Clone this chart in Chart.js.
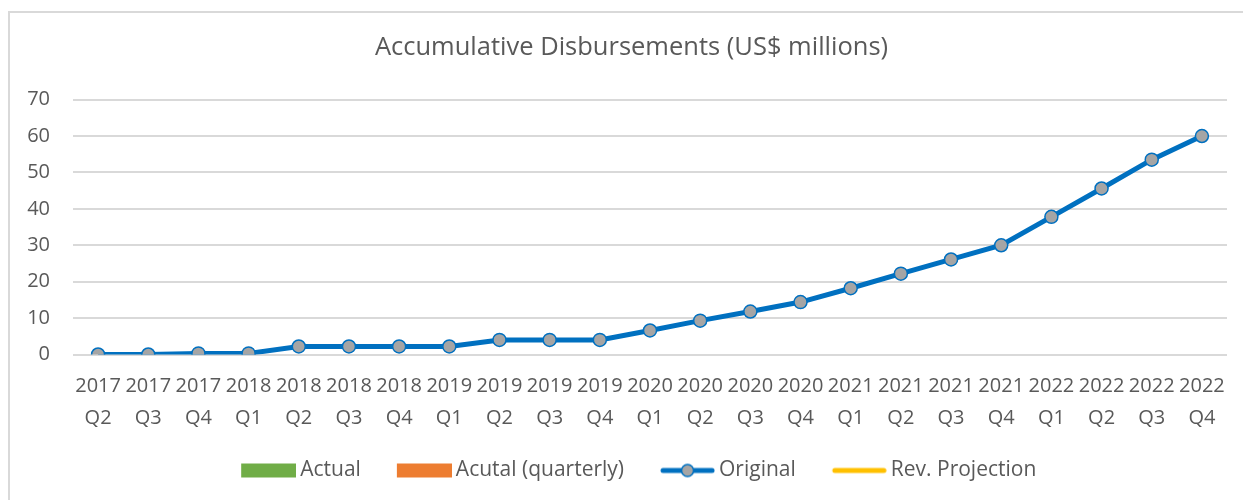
<!DOCTYPE html>
<html>
<head>
<meta charset="utf-8">
<script src="https://cdn.jsdelivr.net/npm/chart.js@4/dist/chart.umd.min.js"></script>
<style>
  body { margin: 0; background: #fff; overflow: hidden; }
  #wrap { position: relative; width: 1243px; height: 500px; }
  #frame { position: absolute; left: 8px; top: 11px; width: 1300px; height: 600px;
           border-left: 2px solid #d9d9d9; border-top: 2px solid #d9d9d9; pointer-events: none; }
</style>
</head>
<body>
<div id="wrap">
  <canvas id="myChart" width="1243" height="500"></canvas>
  <div id="frame"></div>
</div>
<script>
const quarters = ['2017 Q2', '2017 Q3', '2017 Q4', '2018 Q1', '2018 Q2', '2018 Q3', '2018 Q4',
    '2019 Q1', '2019 Q2', '2019 Q3', '2019 Q4', '2020 Q1', '2020 Q2', '2020 Q3', '2020 Q4',
    '2021 Q1', '2021 Q2', '2021 Q3', '2021 Q4', '2022 Q1', '2022 Q2', '2022 Q3', '2022 Q4'];
const original = [0, 0, 0.3, 0.3, 2.2, 2.2, 2.2, 2.2, 4, 4, 4, 6.6, 9.3, 11.8, 14.4,
    18.2, 22.2, 26.1, 30, 37.8, 45.6, 53.5, 60];
const actual = [];
const actualQuarterly = [];
const revProjection = [];
const yTicks = [0, 10, 20, 30, 40, 50, 60, 70];

const FONT = "'Open Sans', sans-serif";
const TEXT = '#595959';

// legend symbols: 55px drawn in the right part of a 68px canvas,
// so there is a wide gap before each item and a small one before its text
function symbol(kind, color){
    const c = document.createElement('canvas');
    c.width = 68; c.height = 16;
    const g = c.getContext('2d');
    if (kind === 'box'){
        g.fillStyle = color;
        g.fillRect(13, 1, 55, 14);
    } else {
        g.strokeStyle = color;
        g.lineWidth = 5;
        g.lineCap = 'round';
        g.beginPath(); g.moveTo(16, 8); g.lineTo(65, 8); g.stroke();
        if (kind === 'marker'){
            g.beginPath(); g.arc(40.5, 8, 6, 0, Math.PI * 2);
            g.fillStyle = '#a5a5a5'; g.fill();
            g.lineWidth = 1.5; g.stroke();
        }
    }
    return c;
}
const legendSymbols = [symbol('box', '#70ad47'), symbol('box', '#ed7d31'),
    symbol('marker', '#0070c0'), symbol('line', '#ffc000')];

// nudge the legend a little to the right, like the reference
const legendShift = {
    id: 'legendShift',
    afterLayout(chart){
        if (chart.legend) chart.legend.left += 8;
    }
};

new Chart(document.getElementById('myChart'), {
    type: 'line',
    data: {
        labels: quarters.map(q => q.split(' ')),
        datasets: [
            { type: 'bar', label: 'Actual', data: actual, backgroundColor: '#70ad47' },
            { type: 'bar', label: 'Acutal (quarterly)', data: actualQuarterly, backgroundColor: '#ed7d31' },
            {
                label: 'Original',
                data: original,
                borderColor: '#0070c0',
                borderWidth: 5,
                pointRadius: 6.5,
                pointBackgroundColor: '#a5a5a5',
                pointBorderColor: '#0070c0',
                pointBorderWidth: 1.5,
                tension: 0
            },
            { label: 'Rev. Projection', data: revProjection, borderColor: '#ffc000', borderWidth: 4 }
        ]
    },
    options: {
        responsive: false,
        animation: false,
        layout: { padding: { left: 20, right: 0, top: 20, bottom: 9 } },
        plugins: {
            title: {
                display: true,
                text: 'Accumulative Disbursements (US$ millions)',
                color: TEXT,
                font: { family: FONT, size: 25.5, weight: 'normal', lineHeight: 1.2 },
                padding: { top: 12, bottom: 37 }
            },
            legend: {
                position: 'bottom',
                labels: {
                    usePointStyle: true,
                    pointStyleWidth: 55,
                    boxHeight: 16,
                    padding: 29.5,
                    color: TEXT,
                    font: { family: FONT, size: 21 },
                    generateLabels: (chart) => chart.data.datasets.map((ds, i) => ({
                        text: ds.label,
                        pointStyle: legendSymbols[i],
                        fillStyle: 'transparent',
                        strokeStyle: 'transparent',
                        lineWidth: 0,
                        fontColor: TEXT,
                        datasetIndex: i
                    }))
                }
            },
            tooltip: { enabled: false }
        },
        scales: {
            x: {
                offset: true,
                afterFit: (axis) => { axis.height = 76; },
                grid: { display: false, drawTicks: false },
                border: { display: false },
                ticks: {
                    color: TEXT,
                    font: { family: FONT, size: 20, lineHeight: 1.6 },
                    maxRotation: 0,
                    autoSkip: false,
                    padding: 16
                }
            },
            y: {
                min: 0,
                max: 70,
                afterBuildTicks: (axis) => { axis.ticks = yTicks.map(v => ({ value: v })); },
                afterFit: (axis) => { axis.width = 53; },
                grid: { color: '#d9d9d9', lineWidth: 2, drawTicks: false },
                border: { display: false },
                ticks: {
                    color: TEXT,
                    font: { family: FONT, size: 20 },
                    padding: 23
                }
            },
            // empty right margin so the chart area ends where the reference does
            y2: {
                position: 'right',
                grid: { display: false },
                border: { display: false },
                ticks: { display: false },
                afterFit: (axis) => { axis.width = 16; }
            }
        }
    },
    plugins: [legendShift]
});
</script>
</body>
</html>
